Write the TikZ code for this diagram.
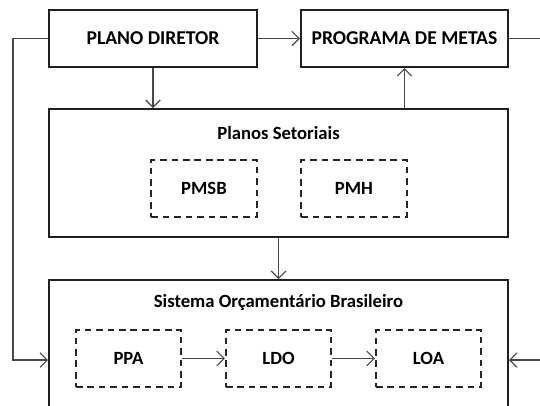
\documentclass[tikz,border=0pt]{standalone}
\usepackage{fontspec}
\setmainfont{Carlito}
\usetikzlibrary{arrows.meta}
\begin{document}
\begin{tikzpicture}[x=0.75pt,y=-0.75pt,
  font=\bfseries\fontsize{14pt}{16pt}\selectfont,
  mainbox/.style={draw=black!88,line width=1.5pt,rectangle,inner sep=0pt},
  topbox/.style={mainbox,minimum height=42.75pt,font=\bfseries\fontsize{14.7pt}{16pt}\selectfont},
  subbox/.style={draw=black!85,line width=1.5pt,dash pattern=on 5pt off 3.6pt,rectangle,inner sep=0pt,minimum width=79pt,minimum height=42.75pt},
  conn/.style={draw=black!72,line width=0.8pt},
  arr/.style={conn,-{Straight Barb[length=5.5pt,width=11pt,line width=0.8pt]}},
  title/.style={inner sep=0pt}]
\clip (0,0) rectangle (540,405);
\useasboundingbox (0,0) rectangle (540,405);
% main boxes
\node[topbox,minimum width=156pt] (pd) at (153,38.5) {PLANO DIRETOR};
\node[topbox,minimum width=155.25pt] (pm) at (404.5,38.5) {PROGRAMA DE METAS};
\node[mainbox,minimum width=344.25pt,minimum height=96pt] (ps) at (278.5,173) {};
\node[title] (pst) at (278.5,133) {Planos Setoriais};
\node[subbox] (pmsb) at (204,188.5) {PMSB};
\node[subbox] (pmh) at (354,188.5) {PMH};
\node[mainbox,minimum width=344.25pt,minimum height=112.5pt] (sob) at (278.5,355) {};
\node[title] (sobt) at (278.5,303) {Sistema Orçamentário Brasileiro};
\node[subbox] (ppa) at (128.5,358.5) {PPA};
\node[subbox] (ldo) at (278.5,358.5) {LDO};
\node[subbox] (loa) at (428.5,358.5) {LOA};
% connectors
\coordinate (inL) at (sob.west |- 0,360);
\coordinate (inR) at (sob.east |- 0,360);
\draw[arr] (pd) -- (pm);
\draw[arr] (pd.south) -- (pd.south |- ps.north);
\draw[arr] (pm.south |- ps.north) -- (pm.south);
\draw[arr] (ps.south) -- (sob.north);
\draw[arr] (pd.west) -- (13,38.5) |- (inL);
\draw[arr] (pm.east) -- (560,38.5) |- (inR);
\draw[arr] (ppa) -- (ldo);
\draw[arr] (ldo) -- (loa);
\end{tikzpicture}
\end{document}
